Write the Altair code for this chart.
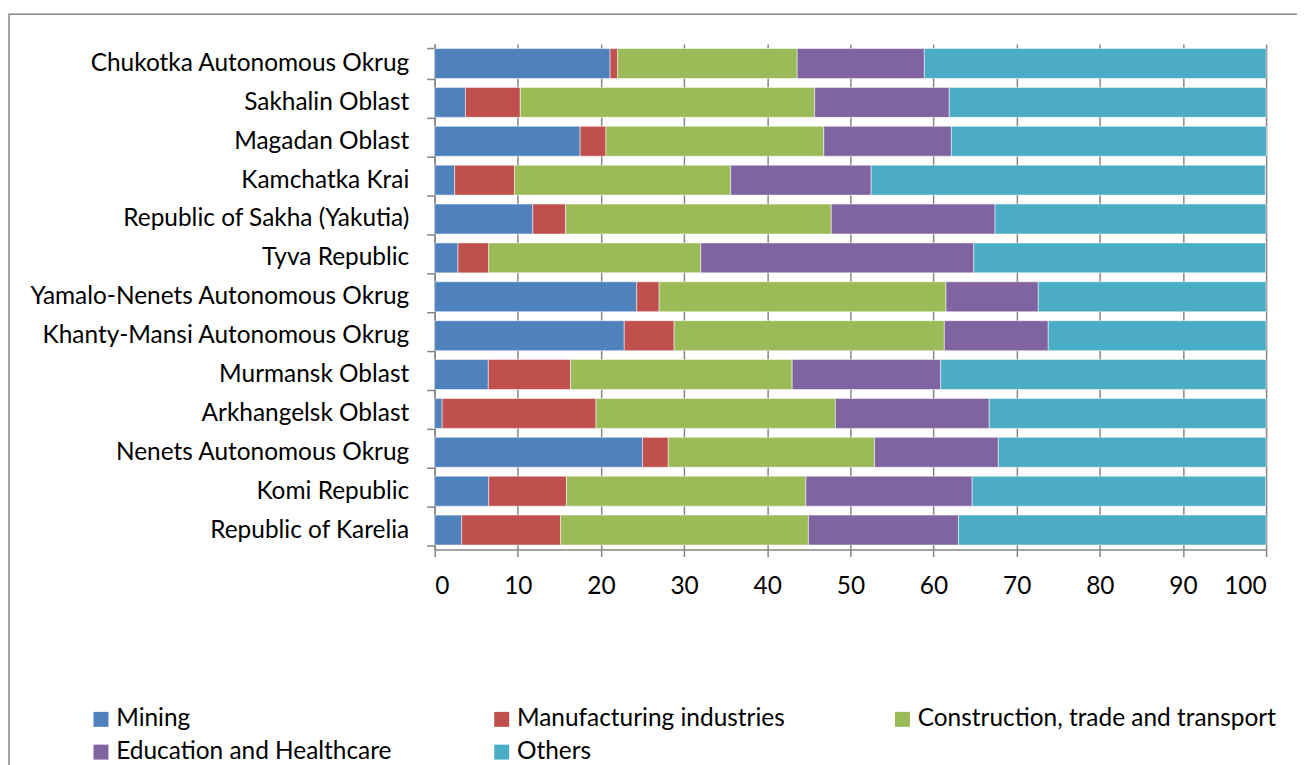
import altair as alt
import pandas as pd

regions = [
    "Chukotka Autonomous Okrug",
    "Sakhalin Oblast",
    "Magadan Oblast",
    "Kamchatka Krai",
    "Republic of Sakha (Yakutia)",
    "Tyva Republic",
    "Yamalo-Nenets Autonomous Okrug",
    "Khanty-Mansi Autonomous Okrug",
    "Murmansk Oblast",
    "Arkhangelsk Oblast",
    "Nenets Autonomous Okrug",
    "Komi Republic",
    "Republic of Karelia",
]
series = [
    "Mining",
    "Manufacturing industries",
    "Construction, trade and transport",
    "Education and Healthcare",
    "Others",
]
mining = [21.1, 3.7, 17.5, 2.4, 11.8, 2.8, 24.3, 22.8, 6.45, 0.9, 25.0, 6.5, 3.25]
manufacturing = [0.9, 6.6, 3.1, 7.2, 3.95, 3.7, 2.7, 6.0, 9.9, 18.5, 3.1, 9.35, 11.9]
construction = [21.6, 35.4, 26.2, 26.0, 31.95, 25.5, 34.5, 32.5, 26.65, 28.8, 24.8, 28.8, 29.8]
education = [15.3, 16.2, 15.35, 16.9, 19.7, 32.85, 11.1, 12.5, 17.85, 18.5, 14.9, 20.0, 18.05]
others = [41.1, 38.1, 37.9, 47.4, 32.6, 35.1, 27.4, 26.2, 39.15, 33.3, 32.2, 35.3, 37.0]
colors = ["#4F81BD", "#C0504D", "#9BBB59", "#8064A2", "#4BACC6"]

rows = []
for s_i, (name, vals) in enumerate(zip(series, [mining, manufacturing, construction, education, others])):
    for r, v in zip(regions, vals):
        rows.append({"region": r, "series": name, "value": v, "order": s_i})
df = pd.DataFrame(rows)

FONT = "Lato"
FS = 24.5

bars = alt.Chart(df).mark_bar(stroke="white", strokeWidth=0.5).encode(
    y=alt.Y(
        "region:N",
        sort=regions,
        title=None,
        scale=alt.Scale(paddingInner=0.23, paddingOuter=0.115),
        axis=alt.Axis(
            tickBand="extent",
            tickSize=8,
            tickColor="#868686",
            tickWidth=1.5,
            domainColor="#868686",
            domainWidth=1.5,
            labelFontSize=FS,
            labelFont=FONT,
            labelColor="#000000",
            labelPadding=18,
            labelLimit=500,
            grid=False,
        ),
    ),
    x=alt.X(
        "value:Q",
        stack="zero",
        title=None,
        scale=alt.Scale(domain=[0, 100], nice=False),
        axis=alt.Axis(
            values=list(range(0, 101, 10)),
            tickSize=7,
            tickColor="#868686",
            tickWidth=1.5,
            domainColor="#868686",
            domainWidth=1.5,
            grid=True,
            gridColor="#868686",
            gridWidth=1.5,
            labelFontSize=FS,
            labelFont=FONT,
            labelColor="#000000",
            labelPadding=18,
        ),
    ),
    color=alt.Color(
        "series:N",
        sort=series,
        scale=alt.Scale(domain=series, range=colors),
        legend=alt.Legend(
            title=None,
            orient="none",
            direction="horizontal",
            legendX=-347,
            legendY=665,
            columns=3,
            gridAlign="all",
            columnPadding=14,
            rowPadding=8,
            symbolType="square",
            symbolSize=225,
            symbolStrokeWidth=0,
            labelFontSize=FS,
            labelFont=FONT,
            labelColor="#000000",
            labelOffset=3,
            labelLimit=600,
        ),
    ),
    order=alt.Order("order:Q", sort="ascending"),
)

frame = alt.Chart(alt.Data(values=[{"k": 1}])).mark_rect(
    fillOpacity=0, stroke="#868686", strokeWidth=1.5, clip=False
).encode(
    x=alt.value(-427), x2=alt.value(900), y=alt.value(-30), y2=alt.value(760)
)

chart = alt.layer(frame, bars).properties(
    width=834,
    height=507,
    padding={"left": 428, "top": 35, "right": 31, "bottom": 215},
    autosize=alt.AutoSizeParams(type="none"),
).configure_view(stroke=None)

chart.save("out.html", embed_options={"renderer": "svg", "actions": False})
